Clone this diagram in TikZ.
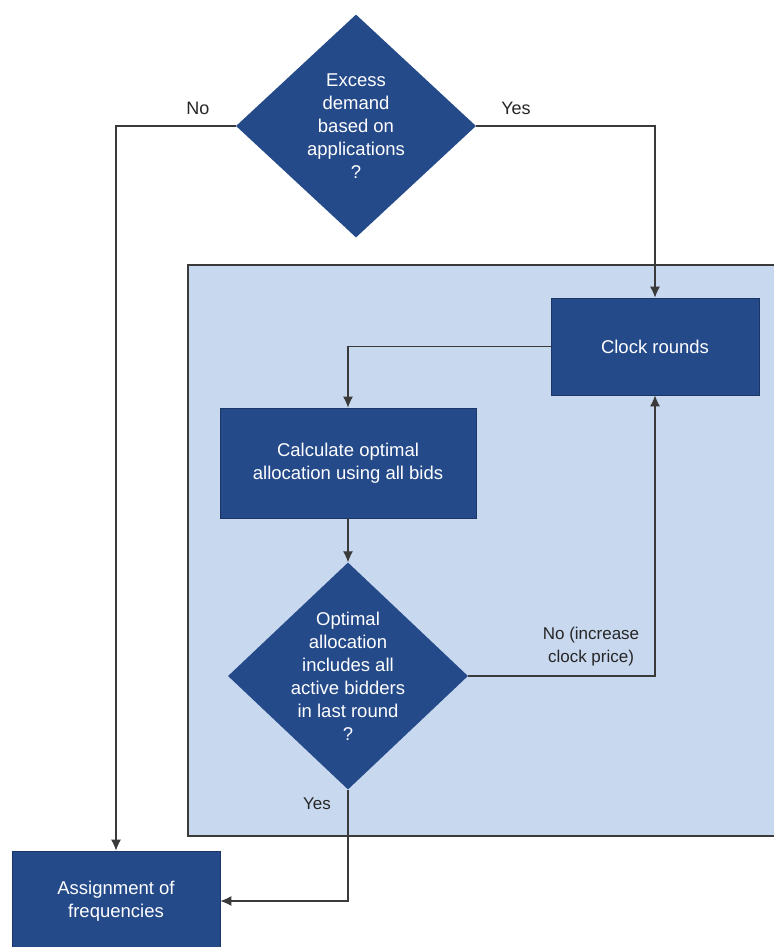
\documentclass[tikz,border=0pt]{standalone}
\usepackage{fontspec}
\setmainfont{Liberation Sans}
\usetikzlibrary{shapes.geometric,arrows.meta}
\definecolor{boxblue}{HTML}{254A8A}
\definecolor{panelblue}{HTML}{C8D8EF}
\definecolor{linegray}{HTML}{3A3A3A}
\begin{document}
\begin{tikzpicture}[x=1pt,y=-1pt,
  procbox/.style={rectangle, fill=boxblue, draw=boxblue!75!black, line width=0.8pt,
    text=white, font=\fontsize{18.5}{23}\selectfont, align=center, inner sep=0pt},
  decision/.style={diamond, fill=boxblue, inner sep=0pt},
  dtext/.style={text=white, font=\fontsize{18.5}{23}\selectfont, align=center, inner sep=0pt},
  lbl/.style={text=black!85, font=\fontsize{18}{23}\selectfont, align=center, inner sep=0pt},
  slbl/.style={text=black!85, font=\fontsize{17}{23}\selectfont, align=center, inner sep=0pt},
  conn/.style={draw=linegray, line width=1.1pt, -{Latex[length=11pt,width=10pt]}}
]
\useasboundingbox (0,0) rectangle (774,947);

% panel
\fill[panelblue] (188,265) rectangle (774,836);
\draw[linegray, line width=1.1pt] (774,265) -- (188,265) -- (188,836) -- (774,836);

% nodes
\node[decision, minimum width=240pt, minimum height=223pt] (d1) at (356,126) {};
\node[dtext] (d1t) at (d1.center) {Excess\\demand\\based on\\applications\\?};

\node[procbox, minimum width=208pt, minimum height=97pt] (clock) at (655,346.5) {Clock rounds};
\node[procbox, minimum width=256pt, minimum height=110pt] (calc) at (348,463) {Calculate optimal\\allocation using all bids};

\node[decision, minimum width=240pt, minimum height=227pt] (d2) at (348,676) {};
\node[dtext] (d2t) at (d2.center) {Optimal\\allocation\\includes all\\active bidders\\in last round\\?};

\node[procbox, minimum width=208pt, minimum height=100pt] (assign) at (116,901) {Assignment of\\frequencies};

% connectors
\draw[conn] (d1.west) -| (assign.north);
\draw[conn] (d1.east) -| (clock.north);
\draw[conn] (clock.west) -| (calc.north);
\draw[conn] (calc.south) -- (d2.north);
\draw[conn] (d2.east) -| (clock.south);
\draw[conn] (d2.south) |- (assign.east);

% labels
\node[lbl] (lno) at (198,108) {No};
\node[lbl] (lyes) at (516,108) {Yes};
\node[slbl] (lnoinc) at (591,647) {No (increase\\clock price)};
\node[slbl] (lyes2) at (317,804) {Yes};
\end{tikzpicture}
\end{document}
